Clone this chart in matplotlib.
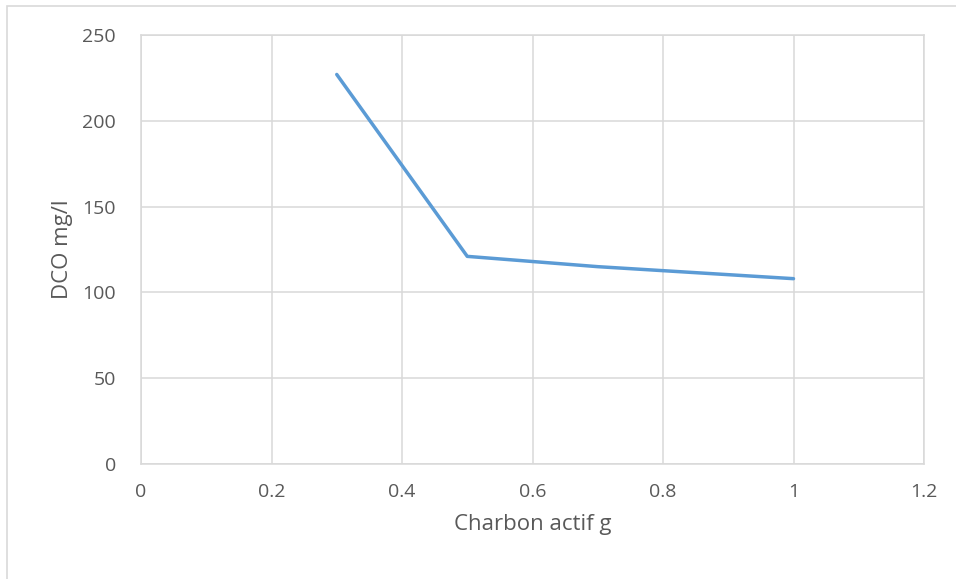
import matplotlib
matplotlib.use("agg")
import matplotlib.pyplot as plt
from matplotlib.patches import Rectangle
from matplotlib.ticker import FuncFormatter

charbon = [0.3, 0.5, 0.7, 1.0]
dco = [227, 121, 115, 108]
x_ticks = [0, 0.2, 0.4, 0.6, 0.8, 1.0, 1.2]
y_ticks = [0, 50, 100, 150, 200, 250]

plt.rcParams["font.family"] = ["Open Sans", "DejaVu Sans"]

fig = plt.figure(figsize=(9.56, 5.79), dpi=100)
ax = fig.add_axes([141/956, 1 - 464/579, (924-141)/956, (464-35)/579])

# outer chart border, like the Excel chart frame
fig.patches.append(Rectangle((7/956, -0.1), 1.2, 1 - 6/579 + 0.1, transform=fig.transFigure,
                             fill=False, edgecolor="#d9d9d9", linewidth=1.2))

ax.plot(charbon, dco, color="#5b9bd5", linewidth=2.5, solid_capstyle="round")

ax.set_xlim(0, 1.2)
ax.set_ylim(0, 250)
ax.set_xticks(x_ticks)
ax.set_yticks(y_ticks)
ax.xaxis.set_major_formatter(FuncFormatter(lambda v, p: "%g" % v))
ax.grid(True, color="#d9d9d9", linewidth=1.1)
ax.set_axisbelow(True)
for s in ax.spines.values():
    s.set_color("#d9d9d9")
    s.set_linewidth(1.1)
ax.tick_params(length=0, labelsize=14, labelcolor="#595959")
ax.tick_params(axis="y", pad=18)
ax.tick_params(axis="x", pad=14)

ax.set_xlabel("Charbon actif g", fontsize=16, color="#595959", labelpad=9)
ax.set_ylabel("DCO mg/l", fontsize=16, color="#595959", labelpad=7)

fig.savefig("out.png", dpi=100)
